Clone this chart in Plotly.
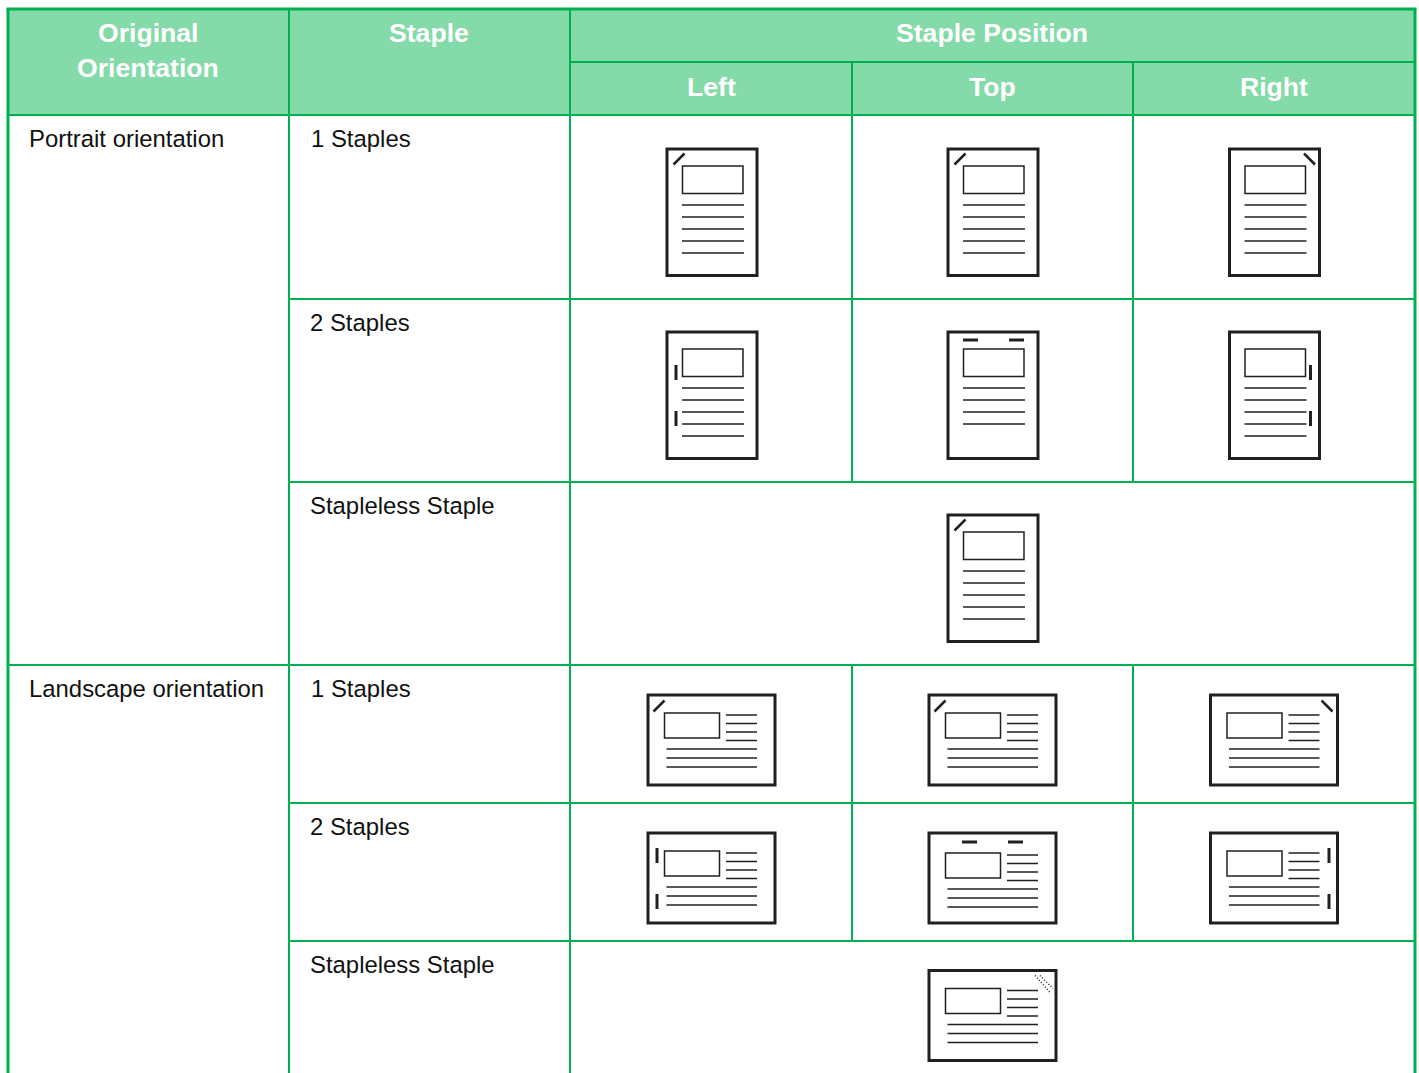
import plotly.graph_objects as go

# ---- table content ----
header_top = ["Original<br>Orientation", "Staple", "Staple Position"]
header_positions = ["Left", "Top", "Right"]
orientations = ["Portrait orientation", "Landscape orientation"]
staple_kinds = ["1 Staples", "2 Staples", "Stapleless Staple"]

# ---- table grid (pixel rulers of the page) ----
col_edges = [8, 289, 570, 852, 1133, 1415]
row_edges = [9, 62, 115, 299, 482, 665, 803, 941, 1073]

GREEN = "#00B050"
HEAD = "#84DAA8"
INK = "#231F20"
W, H = 1419, 1073
FONT = "Liberation Sans, Arial, sans-serif"

shapes, ann = [], []

def line(x0, y0, x1, y1, color=INK, w=1.5, dash=None):
    l = dict(color=color, width=w)
    if dash:
        l["dash"] = dash
    shapes.append(dict(type="line", xref="x", yref="y", x0=x0, y0=y0, x1=x1, y1=y1, line=l))

def rect(x0, y0, x1, y1, color=INK, w=1.5, fill=None):
    s = dict(type="rect", xref="x", yref="y", x0=x0, y0=y0, x1=x1, y1=y1, line=dict(color=color, width=w))
    if fill:
        s["fillcolor"] = fill
    shapes.append(s)

def text(x, y, s, size=23.9, color="#111111", bold=False, anchor="left"):
    ann.append(dict(x=x, y=y, xref="x", yref="y", text=f"<b>{s}</b>" if bold else s, showarrow=False,
                    xanchor=anchor, yanchor="middle", align="center",
                    font=dict(family=FONT, size=size, color=color), borderpad=0, borderwidth=0))

# header fill and grid
rect(col_edges[0], row_edges[0], col_edges[-1], row_edges[2], color=HEAD, w=0, fill=HEAD)
for x in col_edges[1:3]:
    line(x, row_edges[0], x, H, GREEN, 2)
for x in col_edges[3:5]:
    line(x, row_edges[1], x, row_edges[2], GREEN, 2)
line(col_edges[2], row_edges[1], col_edges[-1], row_edges[1], GREEN, 2)
line(col_edges[0], row_edges[2], col_edges[-1], row_edges[2], GREEN, 2)
for i in (3, 4, 6, 7):
    line(col_edges[1], row_edges[i], col_edges[-1], row_edges[i], GREEN, 2)
line(col_edges[0], row_edges[5], col_edges[-1], row_edges[5], GREEN, 2)
for x in col_edges[3:5]:
    line(x, row_edges[2], x, row_edges[4], GREEN, 2)
    line(x, row_edges[5], x, row_edges[7], GREEN, 2)
line(col_edges[0] - 1.5, row_edges[0], col_edges[-1] + 1.5, row_edges[0], GREEN, 3)
line(col_edges[0], row_edges[0], col_edges[0], H, GREEN, 3)
line(col_edges[-1], row_edges[0], col_edges[-1], H, GREEN, 3)

# header text
HS = 26.6
text(148, 32.5, "Original", HS, "white", True, "center")
text(148, 67.5, "Orientation", HS, "white", True, "center")
text(429, 32.5, header_top[1], HS, "white", True, "center")
text(992, 32.5, header_top[2], HS, "white", True, "center")
for x, s in zip([711, 992, 1274], header_positions):
    text(x, 86.5, s, HS, "white", True, "center")

# body text
text(29, 138, orientations[0])
text(29, 688, orientations[1])
for y, x, s in zip([138, 322, 505, 688, 826, 964], [310.5, 310, 310, 310.5, 310, 310], staple_kinds * 2):
    text(x, y, s)

# icons
def portrait(x, y, pos=None, mode=None):
    """x, y: page's top-left corner."""
    rect(x, y, x + 90, y + 126.5, w=3)
    rect(x + 15.5, y + 17, x + 76, y + 44.5)
    n = 4 if (mode == 2 and pos == "Top") else 5
    for k in range(n):
        line(x + 15, y + 56 + k * 12, x + 77, y + 56 + k * 12)
    if mode == 1:
        if pos == "Right":
            line(x + 74.5, y + 4.5, x + 85.5, y + 15.5, w=2.5)
        else:
            line(x + 6.5, y + 15.5, x + 17.5, y + 4.5, w=2.5)
    elif mode == 2:
        if pos == "Left":
            line(x + 9, y + 33, x + 9, y + 48, w=3)
            line(x + 9, y + 79, x + 9, y + 94, w=3)
        elif pos == "Right":
            line(x + 81, y + 33, x + 81, y + 48, w=3)
            line(x + 81, y + 79, x + 81, y + 94, w=3)
        else:
            line(x + 15, y + 8, x + 30, y + 8, w=3)
            line(x + 61, y + 8, x + 76, y + 8, w=3)

def landscape(x, y, pos=None, mode=None):
    rect(x, y, x + 127, y + 90, w=3)
    dy = 2 if (mode == 2 and pos == "Top") else 0
    rect(x + 16.5, y + 18 + dy, x + 71.5, y + 43 + dy)
    for k in range(4):
        yy = y + 20 + dy + k * 8.5
        line(x + 78, yy, x + 109, yy)
    for k in range(3):
        yy = y + 54 + dy + k * 9
        line(x + 18.5, yy, x + 109, yy)
    if mode == 1:
        if pos == "Right":
            line(x + 111, y + 5.5, x + 122, y + 16.5, w=2.5)
        else:
            line(x + 5.5, y + 16.5, x + 16.5, y + 5.5, w=2.5)
    elif mode == 2:
        if pos == "Left":
            line(x + 9, y + 15, x + 9, y + 30, w=3)
            line(x + 9, y + 61, x + 9, y + 76, w=3)
        elif pos == "Right":
            line(x + 118.5, y + 15, x + 118.5, y + 30, w=3)
            line(x + 118.5, y + 61, x + 118.5, y + 76, w=3)
        else:
            line(x + 33, y + 9, x + 48, y + 9, w=3)
            line(x + 79, y + 9, x + 94, y + 9, w=3)
    elif mode == "dots":
        line(x + 106, y + 5, x + 121, y + 22, w=1.5, dash="1px,2px")
        line(x + 111, y + 5, x + 124, y + 18, w=1.5, dash="1px,2px")

px = [667, 948, 1229.5]
lx = [648, 929, 1210.5]
for x, p in zip(px, header_positions):
    portrait(x, row_edges[2] + 34, p, 1)
    portrait(x, row_edges[3] + 33, p, 2)
portrait(px[1], row_edges[4] + 33, "Left", 1)
for x, p in zip(lx, header_positions):
    landscape(x, row_edges[5] + 30, p, 1)
    landscape(x, row_edges[6] + 30, p, 2)
landscape(lx[1], row_edges[7] + 29.5, None, "dots")

fig = go.Figure()
fig.update_layout(
    width=W, height=H, margin=dict(l=0, r=0, t=0, b=0),
    paper_bgcolor="white", plot_bgcolor="white", showlegend=False,
    xaxis=dict(range=[0, W], visible=False, fixedrange=True),
    yaxis=dict(range=[H, 0], visible=False, fixedrange=True),
    shapes=shapes, annotations=ann,
)
fig.write_html("out.html", post_script="document.body.style.margin='0';document.body.style.overflow='hidden';",
               config={"displayModeBar": False})
